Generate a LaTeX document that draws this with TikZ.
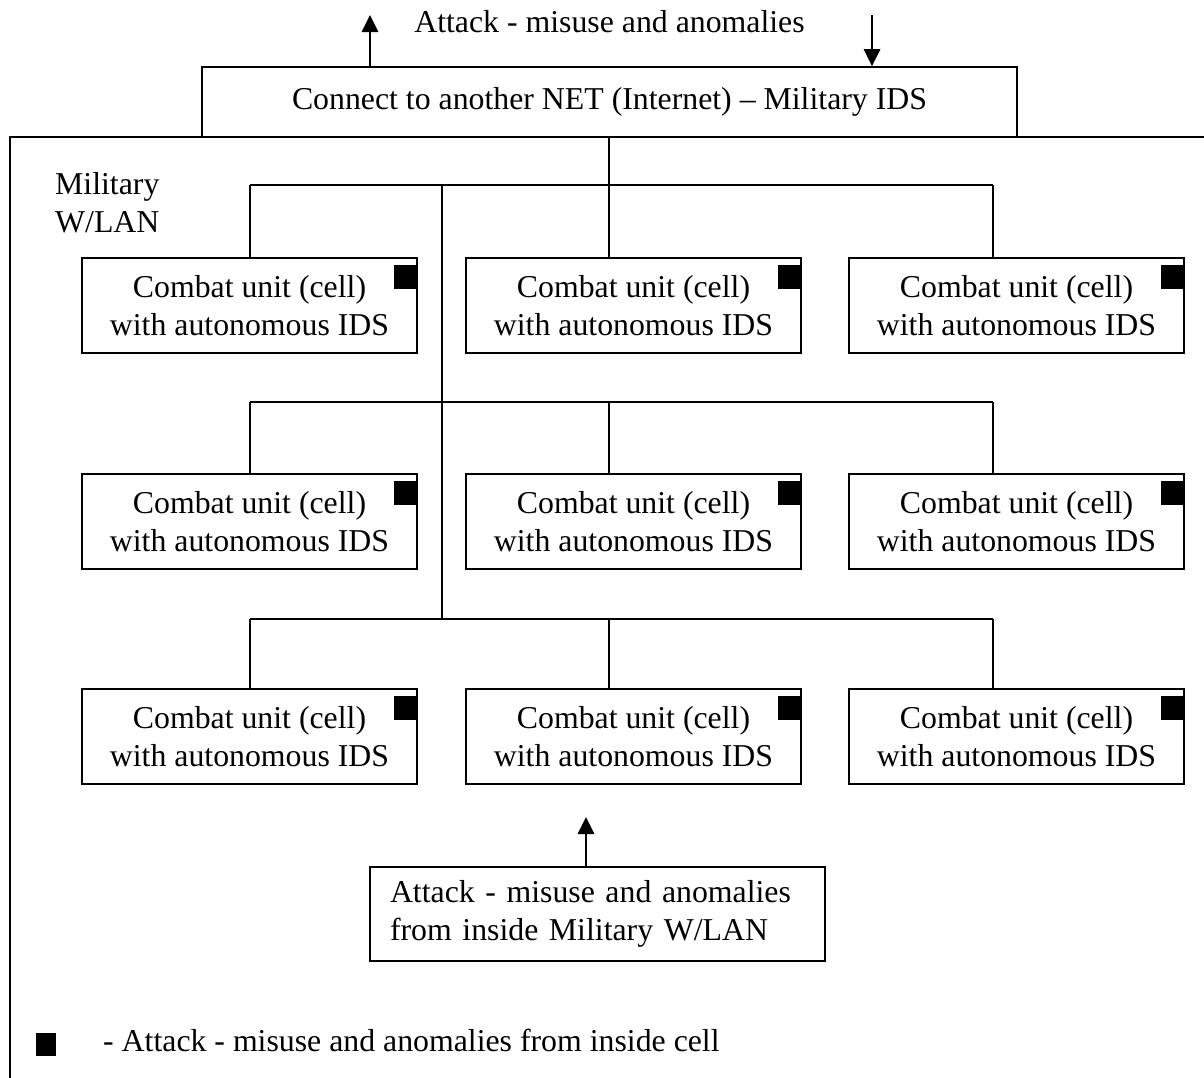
\documentclass[tikz,border=0pt]{standalone}
\usepackage{fontspec}
\setmainfont{Liberation Serif}
\usetikzlibrary{arrows.meta}
\begin{document}
\begin{tikzpicture}[x=1pt,y=-1pt,
  every node/.style={font=\fontsize{31.8}{38.5}\selectfont},
  cellbox/.style={draw, line width=1.6pt, minimum width=335pt, minimum height=95pt,
                  inner sep=0pt, align=center},
  cellmark/.style={fill=black, draw=none, minimum width=24pt, minimum height=24pt,
                   inner sep=0pt, anchor=north east},
  wire/.style={line width=1.3pt},
  frame/.style={line width=1.8pt},
  attack/.style={line width=2.8pt, -{Triangle[length=17pt,width=16pt]}}
]
\useasboundingbox (0,0) rectangle (1204,1077);

% outer W/LAN frame
\draw[frame] (1210,137) -- (10,137) -- (10,1085);

% gateway box
\node[draw, line width=1.6pt, minimum width=815pt, minimum height=70pt, inner sep=0pt]
  (gw) at (609.5,102) {Connect to another NET (Internet) -- Military IDS};
\node (extlabel) at (609.5,22) {Attack - misuse and anomalies};
\coordinate (outtip) at (370,15);
\coordinate (intail) at (872,15);
\draw[attack] (gw.north -| outtip) -- (outtip);
\draw[attack] (intail) -- (gw.north -| intail);

\node[anchor=north west, align=left, inner sep=0pt] (wlan) at (55,172) {Military\\W/LAN};

% combat cells
\foreach \r/\y in {1/305.5, 2/521.5, 3/736.5}{
  \foreach \c/\x in {1/249.5, 2/633.5, 3/1016.5}{
    \node[cellbox] (c\r\c) at (\x,\y) {Combat unit (cell)\\with autonomous IDS};
    \node[cellmark] (m\r\c) at ([yshift=-8pt]c\r\c.north east) {};
  }
}

% bus lines
\foreach \r/\by in {1/185, 2/402, 3/619}{
  \coordinate (bl\r) at (250,\by);
  \coordinate (bm\r) at (609,\by);
  \coordinate (br\r) at (993,\by);
  \draw[wire] (bl\r) -- (br\r);
  \draw[wire] (bl\r) -- (bl\r |- c\r1.north);
  \draw[wire] (bm\r) -- (bm\r |- c\r2.north);
  \draw[wire] (br\r) -- (br\r |- c\r3.north);
}
\draw[wire] (gw.south -| bm1) -- (bm1);
\coordinate (trunktop) at (442,185);
\coordinate (trunkbot) at (442,619);
\draw[wire] (trunktop) -- (trunkbot);

% inside attack
\node[draw, line width=1.6pt, minimum width=455pt, minimum height=94pt, inner sep=0pt,
      align=left, text width=415pt] (inside) at (597.5,914)
  {\begin{tabular}{@{}l@{}}Attack - misuse and anomalies\\from inside Military W/LAN\end{tabular}};
\coordinate (insidetip) at (586,817);
\draw[attack] (inside.north -| insidetip) -- (insidetip);

% legend
\node[fill=black, minimum width=20pt, minimum height=23pt, inner sep=0pt] (legmark) at (46,1044) {};
\node[anchor=west, inner sep=0pt] (legtext) at (103,1040) {- Attack - misuse and anomalies from inside cell};
\end{tikzpicture}
\end{document}
